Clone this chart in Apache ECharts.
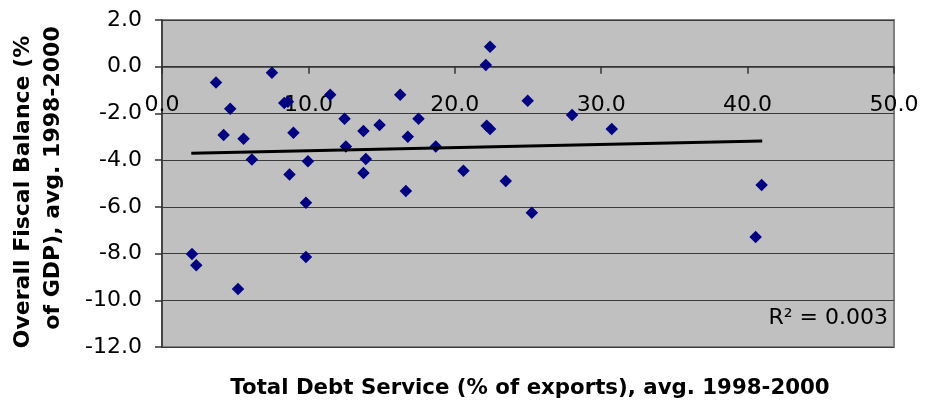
<!DOCTYPE html>
<html>
<head>
<meta charset="utf-8">
<script src="https://cdn.jsdelivr.net/npm/echarts@6/dist/echarts.min.js"></script>
<style>
html,body{margin:0;padding:0;background:#fff;}
#chart{width:925px;height:409px;}
</style>
</head>
<body>
<div id="chart"></div>
<script>
// Total Debt Service (% of exports), avg. 1998-2000
const debtService = [2.05, 2.34, 3.69, 4.21, 4.66, 5.19, 5.57, 6.14, 7.51, 8.35, 8.6, 8.71, 8.98, 9.83, 9.83, 9.97, 11.49, 12.47, 12.56, 13.76, 13.92, 13.76, 14.86, 16.27, 16.66, 16.79, 17.52, 18.70, 20.59, 22.12, 22.41, 22.18, 22.41, 23.48, 24.98, 25.26, 28.01, 30.72, 40.55, 40.96];
// Overall Fiscal Balance (% of GDP), avg. 1998-2000
const fiscalBalance = [-8.02, -8.50, -0.68, -2.92, -1.80, -9.52, -3.08, -3.97, -0.26, -1.55, -1.50, -4.62, -2.83, -5.82, -8.15, -4.05, -1.20, -2.23, -3.42, -2.75, -3.95, -4.55, -2.50, -1.20, -5.32, -3.00, -2.23, -3.42, -4.45, 0.07, 0.86, -2.53, -2.67, -4.89, -1.46, -6.25, -2.07, -2.67, -7.29, -5.06];
// Linear trend line end points
const trendX = [2.0, 41.0];
const trendY = [-3.71, -3.18];
const r2Label = 'R\u00B2 = 0.003';
const xTitle = 'Total Debt Service (% of exports), avg. 1998-2000';
const yTitleLines = ['Overall Fiscal Balance (%', 'of GDP), avg. 1998-2000'];
const xCrossAt = 0; // x axis crosses the value axis at 0

const points = debtService.map((x, i) => [x, fiscalBalance[i]]);
const trend = trendX.map((x, i) => [x, trendY[i]]);

const chart = echarts.init(document.getElementById('chart'), null, {renderer: 'canvas'});
const option = {
  animation: false,
  backgroundColor: '#ffffff',
  grid: {
    left: 162, right: 31, top: 20, bottom: 62,
    show: true, backgroundColor: '#C0C0C0', borderColor: '#808080', borderWidth: 2
  },
  xAxis: {
    type: 'value', min: 0, max: 50, interval: 10, position: 'bottom', offset: 0,
    axisLine: {show: true, onZero: false, lineStyle: {color: '#333333', width: 1.5}},
    axisTick: {show: true, inside: false, length: 7, lineStyle: {color: '#333333', width: 1.5}},
    axisLabel: {
      show: true, margin: 28, color: '#000', fontFamily: 'DejaVu Sans', fontSize: 22,
      formatter: v => v.toFixed(1)
    },
    splitLine: {show: false}
  },
  yAxis: {
    type: 'value', min: -12, max: 2, interval: 2,
    axisLine: {show: true, onZero: false, lineStyle: {color: '#333333', width: 1.5}},
    axisTick: {show: true, inside: false, length: 7, lineStyle: {color: '#333333', width: 1.5}},
    axisLabel: {
      show: true, margin: 20, color: '#000', fontFamily: 'DejaVu Sans', fontSize: 22,
      formatter: v => v.toFixed(1)
    },
    splitLine: {show: true, lineStyle: {color: '#3a3a3a', width: 1}}
  },
  graphic: [
    {
      type: 'text', x: 23, y: 192, rotation: Math.PI / 2,
      style: {text: yTitleLines[0], fontFamily: 'DejaVu Sans', fontWeight: 'bold', fontSize: 22,
              fill: '#000', align: 'center', verticalAlign: 'middle'}
    },
    {
      type: 'text', x: 53, y: 178, rotation: Math.PI / 2,
      style: {text: yTitleLines[1], fontFamily: 'DejaVu Sans', fontWeight: 'bold', fontSize: 22,
              fill: '#000', align: 'center', verticalAlign: 'middle'}
    },
    {
      type: 'text', x: 530, y: 388,
      style: {text: xTitle, fontFamily: 'DejaVu Sans', fontWeight: 'bold', fontSize: 21.3,
              fill: '#000', align: 'center', verticalAlign: 'middle'}
    },
    {
      type: 'text', x: 888, y: 318, z: 100,
      style: {text: r2Label, fontFamily: 'DejaVu Sans', fontSize: 22,
              fill: '#000', align: 'right', verticalAlign: 'middle'}
    }
  ],
  series: [
    {
      type: 'scatter', data: points, symbol: 'diamond', symbolSize: 12.5,
      itemStyle: {color: '#000080', opacity: 1}, z: 2
    },
    {
      type: 'line', data: trend, showSymbol: false, symbol: 'none',
      lineStyle: {color: '#000000', width: 3}, z: 3
    }
  ]
};
chart.setOption(option);
// Move the x axis so it crosses the y axis at value 0 (uses the library's y scale)
const yZero = chart.convertToPixel({yAxisIndex: 0}, xCrossAt);
const yBottom = chart.convertToPixel({yAxisIndex: 0}, -12);
chart.setOption({xAxis: {offset: yZero - yBottom}});
</script>
</body>
</html>
